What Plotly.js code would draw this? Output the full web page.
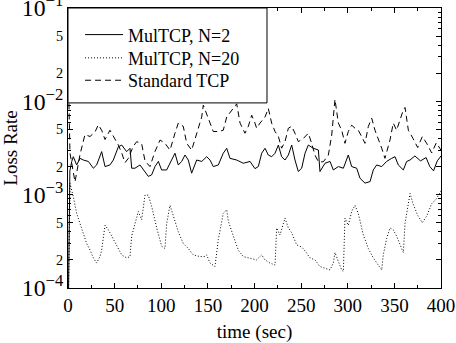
<!DOCTYPE html>
<html><head><meta charset="utf-8">
<script src="https://cdn.plot.ly/plotly-3.0.1.min.js"></script>
<style>html,body{margin:0;padding:0;background:#fff}#chart{width:456px;height:343px}</style>
</head><body><div id="chart"></div>
<script>
const seriesNames = ['MulTCP, N=2', 'MulTCP, N=20', 'Standard TCP'];

const tN2 = [0.5, 2, 4, 5.7, 9.3, 12.9, 16.4, 21.8, 27.2, 30.7,
  36.1, 39.7, 45, 48.6, 54, 57.6, 62.9, 66.5, 68.3, 71.8,
  77.2, 80.8, 86.1, 89.7, 93.3, 96.9, 100.4, 105.8, 109.4, 114.7,
  118.3, 121.9, 125.5, 129, 132.6, 138, 143.4, 148.7, 152.3, 155.8,
  161.2, 166.5, 170.2, 173.7, 180.9, 188, 195.2, 200.5, 204.1, 207.7,
  211.3, 214.8, 218.4, 222, 225.6, 229.1, 232.7, 236.3, 239.9, 243.4,
  247, 250.6, 254.2, 257.7, 263.1, 268.5, 270.2, 275.6, 281, 284.5,
  289.9, 295.3, 300.6, 304.2, 309.6, 313.1, 318.5, 323.9, 327.4, 331,
  336.4, 341.7, 347.1, 350.7, 354.2, 359.6, 363.2, 366.8, 372, 378,
  384, 388, 392, 396, 400];
const lossN2 = [8e-5, 1.8e-3, 2.27e-3, 2.55e-3, 2.08e-3, 2.45e-3, 2.35e-3, 2.27e-3, 1.92e-3, 2.08e-3,
  2.89e-3, 2.0e-3, 2.08e-3, 2.35e-3, 3.26e-3, 3.4e-3, 2.89e-3, 3.14e-3, 1.92e-3, 1.92e-3,
  2.08e-3, 1.84e-3, 1.57e-3, 1.63e-3, 2.0e-3, 2.27e-3, 1.84e-3, 1.84e-3, 2.17e-3, 2.78e-3,
  2.08e-3, 2.27e-3, 2.66e-3, 2.35e-3, 1.7e-3, 2.35e-3, 2.27e-3, 2.55e-3, 2.35e-3, 2.0e-3,
  2.08e-3, 2.78e-3, 3.14e-3, 2.45e-3, 2.35e-3, 2.17e-3, 2.27e-3, 1.9e-3, 2.0e-3, 2.78e-3,
  3.14e-3, 2.66e-3, 2.55e-3, 2.78e-3, 3.4e-3, 2.55e-3, 2.35e-3, 2.66e-3, 3.4e-3, 2.35e-3,
  1.77e-3, 1.92e-3, 2.78e-3, 3.4e-3, 3.14e-3, 3.01e-3, 1.77e-3, 2.17e-3, 2.27e-3, 1.84e-3,
  2.0e-3, 1.92e-3, 2.66e-3, 2.0e-3, 1.92e-3, 1.5e-3, 1.33e-3, 1.38e-3, 1.84e-3, 2.08e-3,
  2.0e-3, 2.27e-3, 2.45e-3, 2.55e-3, 2.08e-3, 1.84e-3, 2.27e-3, 2.35e-3, 2.6e-3, 2.3e-3,
  2.5e-3, 2.0e-3, 1.8e-3, 2.3e-3, 2.6e-3];

const tN20 = [0.5, 2.1, 5.7, 9.3, 12.9, 16.4, 20, 23.6, 27.2, 30.7,
  34.3, 36.1, 39.7, 43.3, 46.8, 50.4, 54, 57.6, 62.9, 66.5,
  68.3, 71.8, 75.4, 79, 82.6, 86.1, 89.7, 95.1, 100.5, 104,
  105.8, 109.4, 112.9, 118.3, 123.6, 129, 134.4, 141.6, 146.9, 148.7,
  152.3, 157.6, 161.2, 166.5, 170.2, 171.9, 177.3, 182.6, 188, 195.2,
  202.3, 207.7, 211.3, 216.6, 222, 223.8, 227.3, 232.7, 236.3, 239.9,
  245.2, 250.6, 254.2, 259.5, 264.9, 270.2, 275.6, 281, 284.5, 286.3,
  289.9, 293.5, 295.3, 297, 300.6, 304.2, 307.8, 311.3, 316.7, 322.1,
  327.4, 332.8, 336.4, 338.1, 341.7, 345.3, 348.8, 352.4, 356, 359.6,
  361.4, 365, 366.8, 370, 375, 380, 385, 390, 395, 400];
const lossN20 = [8e-5, 1.33e-3, 9.5e-4, 6.3e-4, 4.9e-4, 3.9e-4, 3.0e-4, 2.55e-4, 2.1e-4, 1.85e-4,
  2.17e-4, 2.55e-4, 4.7e-4, 4.2e-4, 3.6e-4, 3.1e-4, 2.55e-4, 2.26e-4, 2.1e-4, 2.17e-4,
  3.6e-4, 4.9e-4, 6.6e-4, 5.4e-4, 9.9e-4, 9.9e-4, 7.5e-4, 4.4e-4, 2.8e-4, 2.65e-4,
  4.9e-4, 7.7e-4, 5.8e-4, 4.0e-4, 3.0e-4, 2.65e-4, 2.26e-4, 2.17e-4, 2.17e-4, 2.26e-4,
  1.85e-4, 1.7e-4, 3.3e-4, 6.3e-4, 6.9e-4, 5.2e-4, 3.6e-4, 2.55e-4, 2.17e-4, 2.1e-4,
  2.0e-4, 2.26e-4, 2.0e-4, 1.85e-4, 1.76e-4, 4.4e-4, 3.7e-4, 5.6e-4, 4.4e-4, 3.9e-4,
  2.9e-4, 2.75e-4, 2.5e-4, 2.1e-4, 2.0e-4, 1.7e-4, 1.62e-4, 1.56e-4, 1.85e-4, 2.4e-4,
  1.93e-4, 1.56e-4, 1.5e-4, 5.6e-4, 4.7e-4, 6.6e-4, 7.7e-4, 6.3e-4, 3.7e-4, 2.65e-4,
  2.1e-4, 1.76e-4, 1.56e-4, 2.26e-4, 3.4e-4, 4.4e-4, 4.2e-4, 3.6e-4, 3.0e-4, 2.4e-4,
  4.9e-4, 8.0e-4, 1.03e-3, 8e-4, 6e-4, 5e-4, 6e-4, 8e-4, 9e-4, 1.1e-3];

const tStd = [1, 2.1, 7.5, 12.9, 18.2, 23.6, 29, 32.5, 36.1, 39.7,
  45, 48.6, 54, 57.6, 61.1, 64.7, 70, 73.7, 79, 82.6,
  87.9, 93.3, 98.7, 104, 109.4, 114.7, 118.3, 123.6, 127.3, 132.6,
  138, 143.4, 145.1, 148.7, 152.3, 155.8, 161.2, 166.5, 170.2, 175.5,
  180.9, 184.5, 189.8, 193.4, 197, 200.5, 202.3, 205.9, 211.3, 214.8,
  218.4, 222, 225.6, 229.1, 232.7, 236.3, 239.9, 243.4, 247, 252.4,
  257.7, 261.3, 264.9, 268.5, 273.8, 279.2, 282.8, 286.3, 289.9, 293.5,
  297, 300.6, 304.2, 307.8, 311.3, 314.9, 318.5, 322.1, 325.7, 329.2,
  332.8, 336.4, 339.9, 345.3, 348.8, 352.4, 356, 359.6, 361.4, 365,
  370, 375, 380, 385, 390, 395, 400];
const lossStd = [9.5e-3, 2.8e-3, 1.37e-3, 2.7e-3, 4.4e-3, 4.2e-3, 4.7e-3, 5.6e-3, 4.9e-3, 3.9e-3,
  4.9e-3, 4.2e-3, 3.4e-3, 2.8e-3, 2.2e-3, 2.45e-3, 3.3e-3, 3.7e-3, 3.5e-3, 2.3e-3,
  2.0e-3, 2.9e-3, 3.85e-3, 3.55e-3, 3.0e-3, 4.55e-3, 5.85e-3, 5.4e-3, 3.55e-3, 3.0e-3,
  4.55e-3, 6.8e-3, 9.1e-3, 7.4e-3, 5.85e-3, 4.75e-3, 4.75e-3, 4.9e-3, 6.8e-3, 8.1e-3,
  9.4e-3, 5.85e-3, 4.55e-3, 5.4e-3, 7.1e-3, 5.85e-3, 5.15e-3, 5.85e-3, 6.8e-3, 8.4e-3,
  5.85e-3, 4.75e-3, 4.2e-3, 3.15e-3, 3.7e-3, 5.15e-3, 5.4e-3, 4.55e-3, 3.7e-3, 4.0e-3,
  4.55e-3, 3.55e-3, 2.65e-3, 2.25e-3, 2.25e-3, 2.65e-3, 4.35e-3, 1.05e-2, 5.85e-3, 4.9e-3,
  3.55e-3, 4.75e-3, 5.55e-3, 5.15e-3, 4.9e-3, 4.2e-3, 3.55e-3, 5.4e-3, 6.6e-3, 4.9e-3,
  4.0e-3, 3.15e-3, 2.45e-3, 3.85e-3, 5.85e-3, 4.9e-3, 6.3e-3, 8.1e-3, 8.6e-3, 4.9e-3,
  4.0e-3, 3.2e-3, 4.2e-3, 3.5e-3, 2.8e-3, 3.6e-3, 3.0e-3];

const xTitle = 'time (sec)';
const yTitle = 'Loss Rate';

const serif = 'Liberation Serif, Times New Roman, serif';
const font = {family: serif, size: 19, color: '#000'};
const legFont = {family: serif, size: 18, color: '#000'};

const traces = [
  {x: tN2, y: lossN2, name: seriesNames[0], mode: 'lines', legend: 'legend',
   line: {color: '#000', width: 1}},
  {x: tN20, y: lossN20, name: seriesNames[1], mode: 'lines', legend: 'legend2',
   line: {color: '#000', width: 1, dash: '1px,2px'}},
  {x: tStd, y: lossStd, name: seriesNames[2], mode: 'lines', legend: 'legend3',
   line: {color: '#000', width: 1, dash: '6px,4px'}}
];

const legBase = {xanchor: 'left', yanchor: 'top', x: 0.0323, bgcolor: 'rgba(0,0,0,0)',
  borderwidth: 0, font: legFont, itemwidth: 38};

const layout = {
  width: 456, height: 343,
  margin: {l: 68, r: 15, t: 8, b: 55},
  paper_bgcolor: '#fff', plot_bgcolor: '#fff',
  font: font,
  showlegend: true,
  xaxis: {
    range: [0, 400], tick0: 0, dtick: 50,
    ticks: 'inside', ticklen: 5, tickwidth: 1, tickcolor: '#000',
    minor: {dtick: 25, ticks: 'inside', ticklen: 3, tickwidth: 1, tickcolor: '#000', showgrid: false},
    showline: true, linecolor: '#000', linewidth: 1, mirror: 'allticks',
    showgrid: false, zeroline: false, tickfont: font, ticklabeloverflow: 'allow',
    title: {text: xTitle, font: font, standoff: 18}
  },
  yaxis: {
    type: 'log', range: [-4, -1], dtick: 'D2', exponentformat: 'power',
    ticks: 'inside', ticklen: 5, tickwidth: 1, tickcolor: '#000',
    minor: {dtick: 'D1', ticks: 'inside', ticklen: 3, tickwidth: 1, tickcolor: '#000', showgrid: false},
    showline: true, linecolor: '#000', linewidth: 1, mirror: 'allticks',
    showgrid: false, zeroline: false, tickfont: font, ticklabeloverflow: 'allow',
    title: {text: yTitle, font: font, standoff: 4}
  },
  legend: Object.assign({}, legBase, {y: 0.970}),
  legend2: Object.assign({}, legBase, {y: 0.887}),
  legend3: Object.assign({}, legBase, {y: 0.807}),
  shapes: [{type: 'rect', xref: 'paper', yref: 'paper', x0: 0, x1: 0.5335, y0: 0.661, y1: 1,
    line: {color: '#000', width: 1}, fillcolor: '#fff', layer: 'above'}]
};

Plotly.newPlot('chart', traces, layout, {staticPlot: true, displayModeBar: false});
</script>
</body></html>
